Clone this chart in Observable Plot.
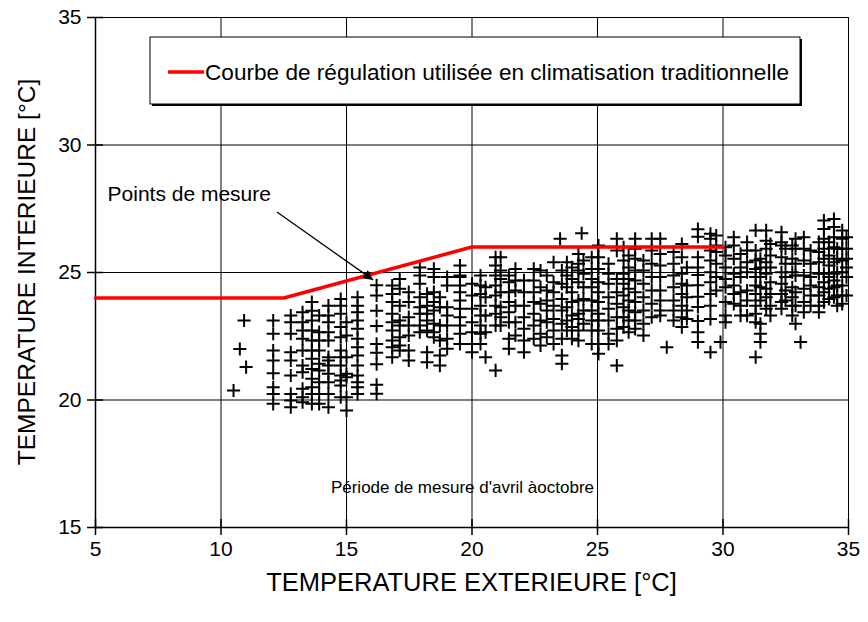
<!DOCTYPE html>
<html><head><meta charset="utf-8">
<script src="https://cdn.jsdelivr.net/npm/d3@7"></script>
<script src="https://cdn.jsdelivr.net/npm/@observablehq/plot@0.6"></script>
<style>
html,body{margin:0;padding:0;background:#fff;}
#chart{position:relative;width:868px;height:622px;}
svg{font-family:"Liberation Sans",Arial,sans-serif;}
</style></head><body><div id="chart"></div>
<script>
// ---- tick labels & titles ----
const xTicks = [5, 10, 15, 20, 25, 30, 35];
const yTicks = [15, 20, 25, 30, 35];
const xGrid = [10, 15, 20, 25, 30, 35];
const yGrid = [20, 25, 30, 35];
const xTitle = "TEMPERATURE EXTERIEURE [°C]";
const yTitle = "TEMPERATURE INTERIEURE [°C]";
const legendLabel = "Courbe de régulation utilisée en climatisation traditionnelle";
const pointsLabel = "Points de mesure";
const periodLabel = "Période de mesure d'avril àoctobre";

// ---- regulation curve (traditional air conditioning) ----
const regulationExt = [5, 12.5, 20, 30];
const regulationInt = [24, 24, 26, 26];

// ---- measured points: outdoor temperature columns and indoor temperatures ----
const columnExt = [10.5, 10.75, 10.92, 11.0, 12.08, 12.78, 13.25, 13.62, 13.91, 14.28, 14.77, 15.0, 15.44, 16.2,
  16.82, 17.12, 17.48, 17.92, 18.21, 18.48, 18.72, 19.01, 19.52, 20.0, 20.34, 20.54, 20.94, 21.14, 21.47, 21.73,
  22.07, 22.46, 22.73, 22.98, 23.25, 23.51, 23.58, 23.78, 23.98, 24.24, 24.37, 24.44, 24.77, 25.04, 25.44, 25.77,
  26.04, 26.24, 26.5, 26.83, 27.16, 27.5, 27.76, 28.03, 28.36, 28.56, 29.0, 29.5, 29.73, 29.9, 30.1, 30.43, 30.7,
  30.96, 31.3, 31.49, 31.72, 31.89, 32.33, 32.49, 32.76, 32.89, 33.09, 33.22, 33.49, 33.82, 34.02, 34.22, 34.42,
  34.55, 34.75, 34.92];
const columnInt = [
  [20.37], [22.0], [23.12], [21.29],
  [23.12, 22.6, 21.94, 21.55, 21.05, 20.5, 20.24, 19.85],
  [23.31, 23.05, 22.6, 21.87, 21.55, 20.96, 20.24, 19.98, 19.72],
  [23.44, 23.05, 22.73, 22.4, 21.94, 21.35, 21.09, 20.44, 20.11, 19.91],
  [23.84, 23.5, 23.12, 22.73, 22.33, 21.94, 21.62, 21.22, 20.83, 20.5, 20.24, 19.85],
  [23.31, 22.66, 22.33, 21.94, 21.42, 21.16, 20.7, 20.24, 19.85],
  [23.7, 23.31, 23.05, 22.66, 22.33, 21.68, 21.55, 21.35, 21.03, 20.7, 20.24, 19.72],
  [23.96, 23.7, 23.38, 22.86, 22.46, 21.94, 21.68, 21.35, 20.96, 20.76, 20.57, 20.11],
  [23.05, 22.53, 21.68, 21.03, 20.89, 20.11, 19.59],
  [24.03, 23.7, 23.44, 23.12, 22.79, 22.4, 22.07, 21.75, 21.35, 20.96, 20.7, 20.5, 20.24],
  [24.5, 24.1, 23.5, 22.9, 22.2, 21.85, 21.4, 20.6, 20.25],
  [24.49, 24.16, 23.84, 23.38, 23.05, 22.73, 22.33, 22.07, 21.68],
  [24.75, 24.36, 23.7, 23.12, 22.92, 22.46, 22.14, 21.94],
  [24.23, 23.84, 23.25, 22.92, 22.53, 21.94, 21.55],
  [25.2, 24.88, 24.56, 24.03, 23.64, 23.38, 22.92, 22.66],
  [24.16, 23.7, 23.38, 23.12, 22.73, 21.87, 21.48],
  [25.14, 24.82, 24.23, 23.84, 23.51, 22.99, 22.66, 22.46],
  [24.03, 23.64, 22.92, 22.33, 21.75, 21.35],
  [24.82, 24.49, 23.64, 23.31, 22.92, 22.4, 22.01],
  [25.27, 24.88, 24.82, 24.49, 24.23, 23.9, 23.58, 23.25, 22.92, 22.6, 22.2],
  [24.56, 24.1, 23.58, 23.05, 22.66, 22.2, 21.87],
  [24.88, 24.49, 24.16, 23.7, 23.31, 22.92, 22.6, 22.2],
  [24.42, 24.03, 23.31, 22.66, 21.68],
  [25.6, 25.27, 24.88, 24.49, 24.1, 23.7, 23.38, 22.92, 21.16],
  [25.6, 25.08, 24.75, 24.23, 23.64, 23.25, 22.92],
  [24.88, 24.62, 24.23, 23.84, 23.44, 23.05, 22.4, 22.01],
  [25.14, 24.69, 24.29, 23.7, 23.05, 22.53],
  [24.69, 24.23, 23.7, 23.25, 22.79, 22.33, 21.87],
  [25.14, 24.69, 24.23, 23.84, 23.38, 22.92, 22.4],
  [25.08, 24.42, 23.77, 23.12, 22.6, 22.14],
  [24.88, 24.29, 23.9, 23.51, 23.05, 22.46],
  [25.4, 24.62, 24.23, 23.7, 23.18, 22.73, 22.2],
  [26.32],
  [25.08, 24.56, 23.96, 23.51, 22.99, 22.4, 21.75, 21.42],
  [25.4, 24.88, 24.42, 23.64, 23.12, 22.73],
  [25.2, 24.75, 24.23, 23.84, 23.31, 22.86, 22.4],
  [25.73, 25.34, 25.08, 24.62, 23.9, 23.38, 23.18, 22.73, 22.33],
  [26.54],
  [25.47, 24.95, 24.42, 23.96, 23.51, 22.99],
  [25.6, 25.14, 24.75, 24.42, 23.9, 23.51, 23.12, 22.73, 22.2],
  [26.06, 25.6, 25.14, 24.62, 24.23, 23.84, 23.38, 23.12, 22.73, 22.2, 21.81],
  [25.34, 24.95, 24.56, 24.03, 23.58, 23.12, 22.6, 22.2],
  [26.32, 25.86, 24.75, 24.23, 23.77, 23.25, 22.79, 22.33, 21.35],
  [25.99, 25.47, 24.95, 24.56, 24.1, 23.64, 23.25, 22.86],
  [25.67, 25.2, 24.75, 24.36, 23.9, 23.51, 23.12, 22.66],
  [26.32, 25.93, 25.54, 25.08, 24.69, 24.23, 23.84, 23.44, 23.12, 22.79],
  [25.47, 25.08, 24.56, 24.03, 23.51, 22.99, 22.53],
  [26.32, 25.86, 25.34, 24.82, 24.29, 23.77, 23.25],
  [26.32, 25.73, 25.27, 24.82, 24.29, 23.9, 23.51, 23.31],
  [22.07],
  [25.8, 25.34, 24.88, 24.42, 23.9, 23.51, 23.12],
  [26.12, 25.6, 24.95, 24.56, 24.16, 23.7, 23.25, 22.86],
  [25.2, 24.49, 24.03, 23.51, 23.18],
  [26.7, 26.4, 25.6, 25.2, 24.9, 24.5, 24.05, 23.65, 23.1, 22.66, 22.27],
  [26.52, 26.32, 25.86, 25.47, 25.01, 24.62, 24.16, 23.7, 23.18, 21.87],
  [26.45, 26.06, 25.8, 25.34, 24.82, 24.29],
  [22.27],
  [25.99, 25.67, 25.2, 24.75, 24.42, 23.84, 23.31, 23.05],
  [26.38, 26.06, 25.54, 24.95, 24.49, 24.16, 23.77],
  [25.73, 25.2, 24.82, 24.23, 23.7, 23.31],
  [26.19, 25.86, 25.4, 25.01, 24.29, 23.9, 23.31],
  [26.65, 25.86, 25.47, 25.14, 24.82, 24.49, 24.16, 23.7, 23.38, 23.05, 21.68],
  [25.54, 25.2, 24.82, 24.42, 23.9, 22.99, 22.6, 22.27],
  [26.65, 26.25, 25.93, 25.4, 24.95, 24.36, 24.03, 23.58],
  [26.12, 25.67, 25.2, 24.62, 24.16, 23.7, 23.31],
  [26.58, 26.19, 26.06, 25.6, 25.01, 24.56, 24.16, 23.84, 23.58],
  [25.93, 25.34, 24.82, 24.29, 23.9],
  [26.06, 25.54, 25.01, 24.42, 24.03, 23.7, 23.31],
  [26.32, 25.93, 25.34, 24.88, 24.23, 23.7, 22.99],
  [22.27],
  [26.38, 25.93, 25.47, 24.88, 24.36, 23.84, 23.44],
  [25.86, 25.34, 24.82, 24.49, 24.1, 23.7],
  [26.19, 25.8, 25.4, 24.95, 24.42, 24.1, 23.7, 23.44],
  [27.04, 26.71, 26.32, 25.93, 25.54, 24.95, 24.62, 24.23, 23.84],
  [26.19, 25.67, 25.27, 24.82, 24.36, 23.96],
  [27.1, 26.78, 26.38, 25.99, 25.4, 24.95, 24.69, 24.42, 24.03],
  [25.93, 25.54, 25.01, 24.49, 24.1, 23.7],
  [26.65, 26.32, 25.93, 25.47, 25.01, 24.49, 24.1, 23.77],
  [26.38, 25.93, 25.54, 25.2, 24.82, 24.1]
];

// ---- annotation anchors (data units) ----
const pointsLabelAt = [5.48, 28.06];
const arrowFrom = [12.25, 27.35];
const arrowTo = [16.08, 24.69];
const periodLabelAt = [19.62, 16.57];

const measures = columnExt.flatMap((x, i) => columnInt[i].map(y => ({ext: x, int: y})));
const regulation = regulationExt.map((x, i) => ({ext: x, int: regulationInt[i]}));

const chart = Plot.plot({
  width: 868,
  height: 622,
  marginLeft: 95,
  marginRight: 20,
  marginTop: 17,
  marginBottom: 95,
  style: {fontFamily: "'Liberation Sans', Arial, sans-serif", background: "#fff", overflow: "visible"},
  x: {domain: [5, 35]},
  y: {domain: [15, 35]},
  marks: [
    Plot.ruleX(xGrid, {stroke: "#000", strokeWidth: 1}),
    Plot.ruleY(yGrid, {stroke: "#000", strokeWidth: 1}),
    Plot.ruleX([5], {stroke: "#000", strokeWidth: 1.5}),
    Plot.ruleY([15], {stroke: "#000", strokeWidth: 1.5}),
    Plot.ruleX(xTicks, {y1: 15, y2: 15, insetTop: -8, insetBottom: -8, stroke: "#000", strokeWidth: 1.5}),
    Plot.ruleY(yTicks, {x1: 5, x2: 5, insetLeft: -8, insetRight: -8, stroke: "#000", strokeWidth: 1.5}),
    Plot.axisX(xTicks, {tickSize: 0, tickPadding: 14, fontSize: 21, label: null, fill: "#000"}),
    Plot.axisY(yTicks, {tickSize: 0, tickPadding: 14, fontSize: 21, label: null, fill: "#000"}),
    Plot.dot(measures, {x: "ext", y: "int", symbol: "plus", r: 4.3, stroke: "#000", strokeWidth: 2}),
    Plot.line(regulation, {x: "ext", y: "int", stroke: "#ff0000", strokeWidth: 3.5}),
    Plot.text([pointsLabel], {x: pointsLabelAt[0], y: pointsLabelAt[1], text: d => d, textAnchor: "start", fontSize: 21, fill: "#000"}),
    Plot.text([periodLabel], {x: periodLabelAt[0], y: periodLabelAt[1], text: d => d, fontSize: 17, fill: "#000"})
  ]
});

const svg = d3.select(chart);
const sx = chart.scale("x"), sy = chart.scale("y");

// arrow
const defs = svg.append("defs");
defs.append("marker").attr("id", "ah").attr("viewBox", "0 0 10 10").attr("refX", 10).attr("refY", 5)
  .attr("markerWidth", 10).attr("markerHeight", 10).attr("markerUnits", "userSpaceOnUse").attr("orient", "auto")
  .append("path").attr("d", "M0,0L10,5L0,10Z").attr("fill", "#000");
svg.append("line")
  .attr("x1", sx.apply(arrowFrom[0])).attr("y1", sy.apply(arrowFrom[1]))
  .attr("x2", sx.apply(arrowTo[0])).attr("y2", sy.apply(arrowTo[1]))
  .attr("stroke", "#000").attr("stroke-width", 1.3).attr("marker-end", "url(#ah)");

// legend box
const lg = svg.append("g").attr("text-anchor", "start");
lg.append("rect").attr("x", 152).attr("y", 39).attr("width", 650).attr("height", 67).attr("fill", "#000");
lg.append("rect").attr("x", 150).attr("y", 37).attr("width", 650).attr("height", 67).attr("fill", "#fff").attr("stroke", "#000").attr("stroke-width", 1);
lg.append("line").attr("x1", 168).attr("x2", 204).attr("y1", 72).attr("y2", 72).attr("stroke", "#ff0000").attr("stroke-width", 3.5);
lg.append("text").attr("x", 205).attr("y", 72).attr("dy", "0.35em").attr("text-anchor", "start").attr("font-size", 22.6).attr("fill", "#000").text(legendLabel);

// axis titles
svg.append("text").attr("x", (sx.apply(5) + sx.apply(35)) / 2).attr("y", 582).attr("dy", "0.35em")
  .attr("text-anchor", "middle").attr("font-size", 25.5).attr("fill", "#000").text(xTitle);
svg.append("text").attr("transform", `translate(26,${(sy.apply(15) + sy.apply(35)) / 2}) rotate(-90)`).attr("dy", "0.35em")
  .attr("text-anchor", "middle").attr("font-size", 24.5).attr("fill", "#000").text(yTitle);

document.getElementById("chart").appendChild(chart);
</script></body></html>
